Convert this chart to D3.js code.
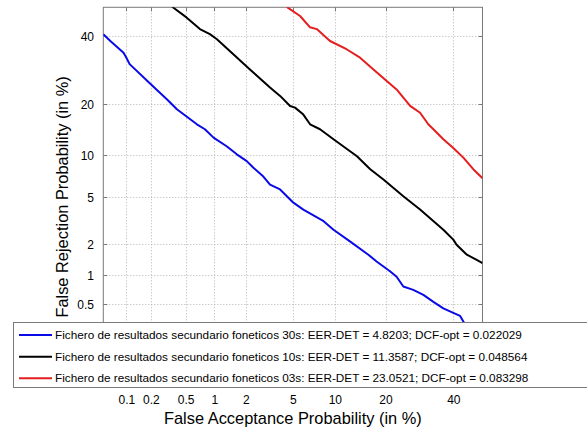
<!DOCTYPE html>
<html>
<head>
<meta charset="utf-8">
<script src="https://cdn.jsdelivr.net/npm/d3@7"></script>
<style>
html,body{margin:0;padding:0;background:#fff;}
svg{display:block;font-family:"Liberation Sans",Arial,Helvetica,sans-serif;}
</style>
</head>
<body>
<svg id="chart" width="587" height="428"></svg>
<script>
// ---- data (percent) ----
const tickValues = [0.1, 0.2, 0.5, 1, 2, 5, 10, 20, 40];
const tickLabels = ["0.1", "0.2", "0.5", "1", "2", "5", "10", "20", "40"];
const axisLimits = [0.05, 50];

const seriesNames = [
  "Fichero de resultados secundario foneticos 30s: EER-DET = 4.8203; DCF-opt = 0.022029",
  "Fichero de resultados secundario foneticos 10s: EER-DET = 11.3587; DCF-opt = 0.048564",
  "Fichero de resultados secundario foneticos 03s: EER-DET = 23.0521; DCF-opt = 0.083298"
];
const seriesColors = ["#0a0ae6", "#000000", "#e41e1e"];

// False acceptance (x, %) and false rejection (y, %)
const blueFA = [0.05,0.062,0.092,0.10,0.11,0.20,0.31,0.40,0.66,0.80,0.98,1.32,1.65,2.04,2.34,2.86,3.26,3.95,5.04,6.0,8.4,9.8,12.5,16.1,17.9,21.1,22.8,24.6,27.4,30.4,33.5,36.7,40.0,42.3,43.4,46.0];
const blueFR = [40.8,38.5,34.7,33.1,31.1,25.2,21.2,18.8,15.5,14.5,12.9,11.4,10.1,9.1,8.2,7.1,6.2,5.7,4.5,3.96,3.17,2.68,2.11,1.59,1.37,1.10,0.97,0.77,0.71,0.63,0.53,0.45,0.40,0.37,0.32,0.25];

const blackFA = [0.33,0.36,0.51,0.71,0.90,1.06,1.53,2.18,3.26,3.95,4.75,5.19,6.0,6.73,7.93,9.8,13.8,16.5,19.5,24.6,29.4,36.7,40.0,41.1,44.6,48.0,50.0];
const blackFR = [52,50,46.5,42.5,40.8,39.1,34.2,29.5,24.3,22.1,19.6,19.2,17.6,15.5,14.5,12.6,9.8,8.0,6.75,5.05,3.96,2.68,2.19,1.97,1.59,1.42,1.32];

const redFA = [4.3,4.52,5.67,6.73,7.52,9.29,11.9,14.4,17.2,20.3,22.8,26.5,29.4,31.9,33.5,36.7,40.0,43.4,46.8,50.0];
const redFR = [52,50,47.0,43.1,42.5,38.5,35.8,33.1,29.5,26.1,23.8,19.6,18.0,15.5,14.5,12.6,11.1,9.6,8.0,6.9];

// ---- normal deviate (probit) ----
function probit(p){
  const a=[-3.969683028665376e+01,2.209460984245205e+02,-2.759285104469687e+02,1.383577518672690e+02,-3.066479806614716e+01,2.506628277459239e+00];
  const b=[-5.447609879822406e+01,1.615858368580409e+02,-1.556989798598866e+02,6.680131188771972e+01,-1.328068155288572e+01];
  const c=[-7.784894002430293e-03,-3.223964580411365e-01,-2.400758277161838e+00,-2.549732539343734e+00,4.374664141464968e+00,2.938163982698783e+00];
  const d=[7.784695709041462e-03,3.224671290700398e-01,2.445134137142996e+00,3.754408661907416e+00];
  const pl=0.02425, ph=1-pl; let q,r;
  if(p<pl){q=Math.sqrt(-2*Math.log(p));return (((((c[0]*q+c[1])*q+c[2])*q+c[3])*q+c[4])*q+c[5])/((((d[0]*q+d[1])*q+d[2])*q+d[3])*q+1);}
  if(p<=ph){q=p-0.5;r=q*q;return (((((a[0]*r+a[1])*r+a[2])*r+a[3])*r+a[4])*r+a[5])*q/(((((b[0]*r+b[1])*r+b[2])*r+b[3])*r+b[4])*r+1);}
  q=Math.sqrt(-2*Math.log(1-p));return -(((((c[0]*q+c[1])*q+c[2])*q+c[3])*q+c[4])*q+c[5])/((((d[0]*q+d[1])*q+d[2])*q+d[3])*q+1);
}
const dev = v => probit(v/100);

// ---- layout ----
const L=103.3, R=482.5, T=7.3, B=386.5;
const legendTop = 322.5;
const svg = d3.select("#chart");
const x = d3.scaleLinear().domain([dev(axisLimits[0]), dev(axisLimits[1])]).range([L, R]);
const y = d3.scaleLinear().domain([dev(axisLimits[0]), dev(axisLimits[1])]).range([B, T]);

// grid
const grid = svg.append("g").attr("stroke","#b4b4b4").attr("stroke-width",1).attr("stroke-dasharray","1,2");
grid.selectAll("line.gx").data(tickValues).join("line")
  .attr("x1",d=>Math.round(x(dev(d)))+0.5).attr("x2",d=>Math.round(x(dev(d)))+0.5)
  .attr("y1",T).attr("y2",B);
grid.selectAll("line.gy").data(tickValues).join("line").attr("class","gy")
  .attr("y1",d=>Math.round(y(dev(d)))+0.5).attr("y2",d=>Math.round(y(dev(d)))+0.5)
  .attr("x1",L).attr("x2",R);

// frame with inward ticks
const frame = svg.append("g").attr("stroke","#7a7a7a").attr("stroke-width",1);
tickValues.forEach(v=>{
  const px = Math.round(x(dev(v)))+0.5, py = Math.round(y(dev(v)))+0.5;
  frame.append("line").attr("x1",px).attr("x2",px).attr("y1",B).attr("y2",B-4);
  frame.append("line").attr("x1",px).attr("x2",px).attr("y1",T).attr("y2",T+4);
  frame.append("line").attr("x1",L).attr("x2",L+4).attr("y1",py).attr("y2",py);
  frame.append("line").attr("x1",R).attr("x2",R-4).attr("y1",py).attr("y2",py);
});
frame.append("rect").attr("x",L).attr("y",T).attr("width",R-L).attr("height",B-T).attr("fill","none");

// curves
svg.append("clipPath").attr("id","clip").append("rect").attr("x",L).attr("y",T).attr("width",R-L).attr("height",B-T);
const line = d3.line().x(d=>x(dev(d[0]))).y(d=>y(dev(d[1])));
const series = [[blueFA,blueFR],[blackFA,blackFR],[redFA,redFR]];
const curves = svg.append("g").attr("clip-path","url(#clip)");
series.forEach((s,i)=>{
  const pts = s[0].map((v,j)=>[v, s[1][j]]);
  curves.append("path").datum(pts).attr("d",line).attr("fill","none")
    .attr("stroke",seriesColors[i]).attr("stroke-width",2).attr("stroke-linejoin","round");
});

// tick labels (y labels hidden behind the legend are not drawn)
const ax = d3.axisBottom(x).tickValues(tickValues.map(dev)).tickFormat((d,i)=>tickLabels[i]).tickSize(0).tickPadding(0);
const yVisible = tickValues.filter(v => y(dev(v)) < legendTop - 6);
const ay = d3.axisLeft(y).tickValues(yVisible.map(dev)).tickFormat(d=>tickLabels[tickValues.findIndex(v=>Math.abs(dev(v)-d)<1e-9)]).tickSize(0).tickPadding(0);

const gx = svg.append("g").attr("transform",`translate(0,${404})`).call(ax);
gx.select(".domain").remove();
gx.selectAll("text").attr("font-size",12).attr("fill","#000").attr("dy",0).attr("font-family","Liberation Sans, Arial, sans-serif");
const gy = svg.append("g").attr("transform",`translate(${94},0)`).call(ay);
gy.select(".domain").remove();
gy.selectAll("text").attr("font-size",12).attr("fill","#000").attr("dy","0.35em").attr("font-family","Liberation Sans, Arial, sans-serif");

// axis titles
svg.append("text").attr("x",(L+R)/2).attr("y",424).attr("text-anchor","middle").attr("font-size",16.4)
  .text("False Acceptance Probability (in %)");
svg.append("text").attr("transform",`translate(68,${(T+B)/2}) rotate(-90)`).attr("text-anchor","middle").attr("font-size",16.4)
  .text("False Rejection Probability (in %)");

// legend
const lg = svg.append("g");
lg.append("rect").attr("x",13.5).attr("y",legendTop).attr("width",600).attr("height",65).attr("fill","#fff").attr("stroke","#7a7a7a");
const rowsY = [335, 356.7, 378.3];
seriesNames.forEach((n,i)=>{
  lg.append("line").attr("x1",19).attr("x2",52).attr("y1",rowsY[i]).attr("y2",rowsY[i]).attr("stroke",seriesColors[i]).attr("stroke-width",2);
  lg.append("text").attr("x",55).attr("y",rowsY[i]).attr("dy","0.35em").attr("font-size",11.75).text(n);
});
</script>
</body>
</html>
